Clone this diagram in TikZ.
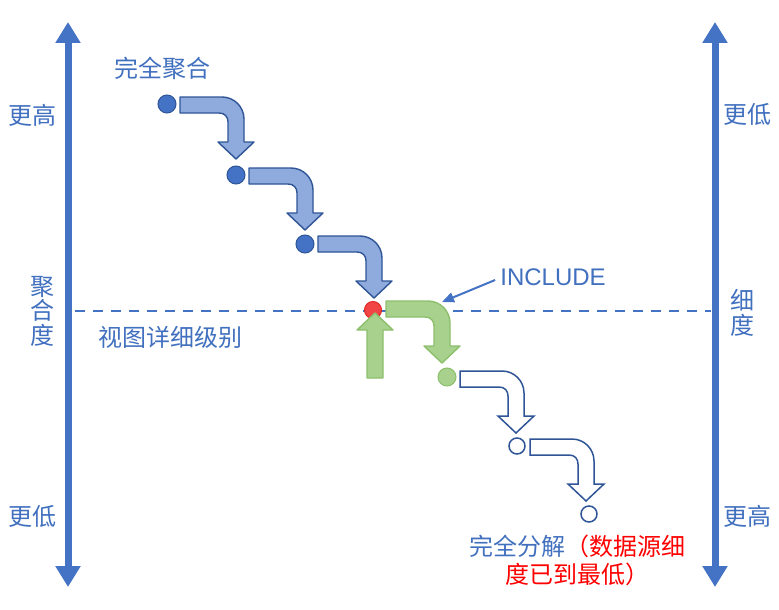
\documentclass[tikz,border=0pt]{standalone}
\usepackage{fontspec}
\setmainfont{Noto Sans CJK SC}
\newfontfamily\latinfont{Liberation Sans}
\usetikzlibrary{arrows.meta}
\definecolor{axisblue}{HTML}{4472C4}
\definecolor{txtblue}{HTML}{4170BF}
\definecolor{darkblue}{HTML}{2F5597}
\definecolor{arrfill}{HTML}{8FAADC}
\definecolor{grnfill}{HTML}{A9D18E}
\definecolor{grnline}{HTML}{8CC06C}
\definecolor{redfill}{HTML}{F24444}
\definecolor{redline}{HTML}{E02828}
\tikzset{
  lbl/.style={text=txtblue, inner sep=0pt, font=\fontsize{24}{26}\selectfont},
  axis/.style={draw=axisblue, line width=7pt, {Triangle[length=21pt,width=24pt]}-{Triangle[length=21pt,width=24pt]}},
  dotfull/.style={circle, minimum size=18pt, inner sep=0pt, fill=axisblue, draw=darkblue, line width=1pt},
  dotred/.style={circle, minimum size=17pt, inner sep=0pt, fill=redfill, draw=redline, line width=1pt},
  dotgrn/.style={circle, minimum size=18pt, inner sep=0pt, fill=grnfill, draw=grnline, line width=1pt},
  dothol/.style={circle, minimum size=16pt, inner sep=0pt, fill=white, draw=darkblue, line width=1.5pt},
  arrblue/.style={fill=arrfill, draw=darkblue, line width=1.4pt, line join=round},
  arrgrn/.style={fill=grnfill, draw=grnline, line width=1.4pt, line join=round},
  arrhol/.style={fill=white, draw=darkblue, line width=1.5pt, line join=miter},
}
\newcommand\bentarr[3]{%
  \begin{scope}[shift={(#1,#2)}]
    \path[#3] (13,-8) -- (55,-8) .. controls (67.15,-8) and (77,1.85) .. (77,14)
      -- (77,37) -- (87,37) -- (69,54) -- (51,37) -- (61,37) -- (61,17)
      .. controls (61,12) and (58,8) .. (52,8) -- (13,8) -- cycle;
  \end{scope}}
\begin{document}
\begin{tikzpicture}[x=1pt,y=-1pt]
\path[fill=white] (0,0) rectangle (779,610);
\useasboundingbox (0,0) rectangle (779,610);

% axes
\coordinate (lt) at (68,22); \coordinate (lb) at (68,587);
\coordinate (rt) at (715,22); \coordinate (rb) at (715,587);
\draw[axis] (lb) -- (lt);
\draw[axis] (rb) -- (rt);

% dashed line
\coordinate (dl) at (75,311); \coordinate (dr) at (711,311);
\draw[axisblue, line width=2pt, dash pattern=on 10pt off 8pt] (dl) -- (dr);

% dots
\node[dotfull] (d1) at (167,104) {};
\node[dotfull] (d2) at (236,175) {};
\node[dotfull] (d3) at (305,244) {};

% bent arrows
\bentarr{167}{105}{arrblue}
\bentarr{236}{176}{arrblue}
\bentarr{305}{244}{arrblue}

% red dot and green arrows
\node[dotred] (d4) at (373,310) {};
\bentarr{373}{309}{arrgrn}
\path[arrgrn] (367,378) -- (367,330) -- (357,330) -- (375,313) -- (393,330) -- (383,330) -- (383,378) -- cycle;

\node[dotgrn] (d5) at (447,377) {};
\bentarr{447}{379}{arrhol}
\node[dothol] (d6) at (517,446) {};
\bentarr{517}{447}{arrhol}
\node[dothol] (d7) at (589,514) {};

% labels
\node[lbl] (tfull) at (162,68) {完全聚合};
\node[lbl] (lhi) at (33,115) {更高};
\node[lbl] (rlo) at (747,114) {更低};
\node[lbl] (llo) at (33,516) {更低};
\node[lbl] (rhi) at (747,516) {更高};
\node[lbl, align=center, font=\fontsize{24}{24.5}\selectfont] (lagg) at (42,311) {聚\\合\\度};
\node[lbl, align=center, font=\fontsize{24}{25}\selectfont] (rgr) at (742,313) {细\\度};
\node[lbl] (lod) at (170,337) {视图详细级别};
\node[lbl, font=\latinfont\fontsize{24}{26}\selectfont] (inc) at (553,277) {INCLUDE};
\node[lbl, align=center, font=\fontsize{24}{28}\selectfont] (bot) at (577,560)
  {完全分解\textcolor{red}{（数据源细}\\\textcolor{red}{度已到最低）}};

% INCLUDE pointer
\coordinate (inctip) at (442,302);
\draw[axisblue, line width=2pt, -{Triangle[length=12pt,width=10pt]}] (inc.west) ++(-5,3) -- (inctip);
\end{tikzpicture}
\end{document}
